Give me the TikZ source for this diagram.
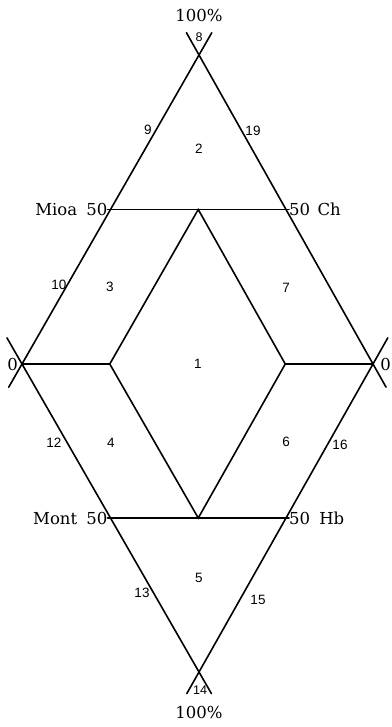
\documentclass[tikz,border=0pt]{standalone}
\usepackage{fontspec}
\newfontfamily\numfont{Liberation Sans}
\newfontfamily\labfont{DejaVu Serif}
\usetikzlibrary{calc}
\begin{document}
\begin{tikzpicture}[x=1pt,y=-1pt,
  edge/.style={line width=1.6pt, line cap=round},
  big/.style={font=\labfont\fontsize{16.5}{18}\selectfont, inner sep=0pt},
  num/.style={font=\numfont\fontsize{13.5}{14}\selectfont, inner sep=0pt},
  smallnum/.style={font=\numfont\fontsize{12.5}{13}\selectfont, inner sep=0pt}]
\useasboundingbox (0,0) rectangle (391,727);
% outer vertices
\coordinate (T) at (199,55);
\coordinate (L) at (22,364);
\coordinate (R) at (373,364);
\coordinate (B) at (199,672);
% 50% points on the edges
\coordinate (ML) at ($(T)!0.5!(L)$);
\coordinate (MR) at ($(T)!0.5!(R)$);
\coordinate (NL) at ($(B)!0.5!(L)$);
\coordinate (NR) at ($(B)!0.5!(R)$);
% inner rhombus
\coordinate (IT) at ($(ML)!0.5!(MR)$);
\coordinate (IB) at ($(NL)!0.5!(NR)$);
\coordinate (IL) at ($(L)!0.25!(R)$);
\coordinate (IR) at ($(L)!0.75!(R)$);
% extended ends
\coordinate (TL) at ($(T)!-0.072!(L)$);
\coordinate (TR) at ($(T)!-0.072!(R)$);
\coordinate (LT) at ($(L)!-0.075!(T)$);
\coordinate (LB) at ($(L)!-0.085!(B)$);
\coordinate (RT) at ($(R)!-0.075!(T)$);
\coordinate (RB) at ($(R)!-0.085!(B)$);
\coordinate (BL) at ($(B)!-0.07!(L)$);
\coordinate (BR) at ($(B)!-0.07!(R)$);
\coordinate (MLx) at ($(ML)!-3pt!(MR)$);
\coordinate (MRx) at ($(MR)!-3pt!(ML)$);
\coordinate (NLx) at ($(NL)!-3pt!(NR)$);
\coordinate (NRx) at ($(NR)!-3pt!(NL)$);
% outer edges
\draw[edge] (TL) -- (LT);
\draw[edge] (TR) -- (RT);
\draw[edge] (BL) -- (LB);
\draw[edge] (BR) -- (RB);
% 50 lines
\draw[edge] (MLx) -- (MRx);
\draw[edge] (NLx) -- (NRx);
\draw[edge] (L) -- (IL);
\draw[edge] (IR) -- (R);
% inner rhombus
\draw[edge] (IT) -- (IL) -- (IB) -- (IR) -- cycle;
% big labels
\node[big] (p100t) at (199,15) {100\%};
\node[big] (p100b) at (199,712) {100\%};
\node[big, anchor=east] (z0l) at (18,364) {0};
\node[big] (z0r) at (385.5,364) {0};
\node[big, anchor=east] (mioa) at ($(ML)+(-3,0)$) {Mioa\hspace{0.55em}50};
\node[big, anchor=west] (ch) at ($(MR)+(3,0)$) {50\hspace{0.45em}Ch};
\node[big, anchor=east] (mont) at ($(NL)+(-3,0)$) {Mont\hspace{0.55em}50};
\node[big, anchor=west] (hb) at ($(NR)+(3,0)$) {50\hspace{0.55em}Hb};
% small numbers
\node[smallnum] (n8) at (199,37) {8};
\node[num] (n9) at (148,130) {9};
\node[num] (n19) at (253,131) {19};
\node[num] (n2) at (199,149) {2};
\node[num] (n10) at (59,285) {10};
\node[num] (n3) at (110,287) {3};
\node[num] (n7) at (286,288) {7};
\node[num] (n1) at (198,364) {1};
\node[num] (n12) at (54,443) {12};
\node[num] (n4) at (111,443) {4};
\node[num] (n6) at (286,442) {6};
\node[num] (n16) at (340,445) {16};
\node[num] (n5) at (199,578) {5};
\node[num] (n13) at (142,593) {13};
\node[num] (n15) at (258,600) {15};
\node[smallnum] (n14) at (200,690) {14};
\end{tikzpicture}
\end{document}
